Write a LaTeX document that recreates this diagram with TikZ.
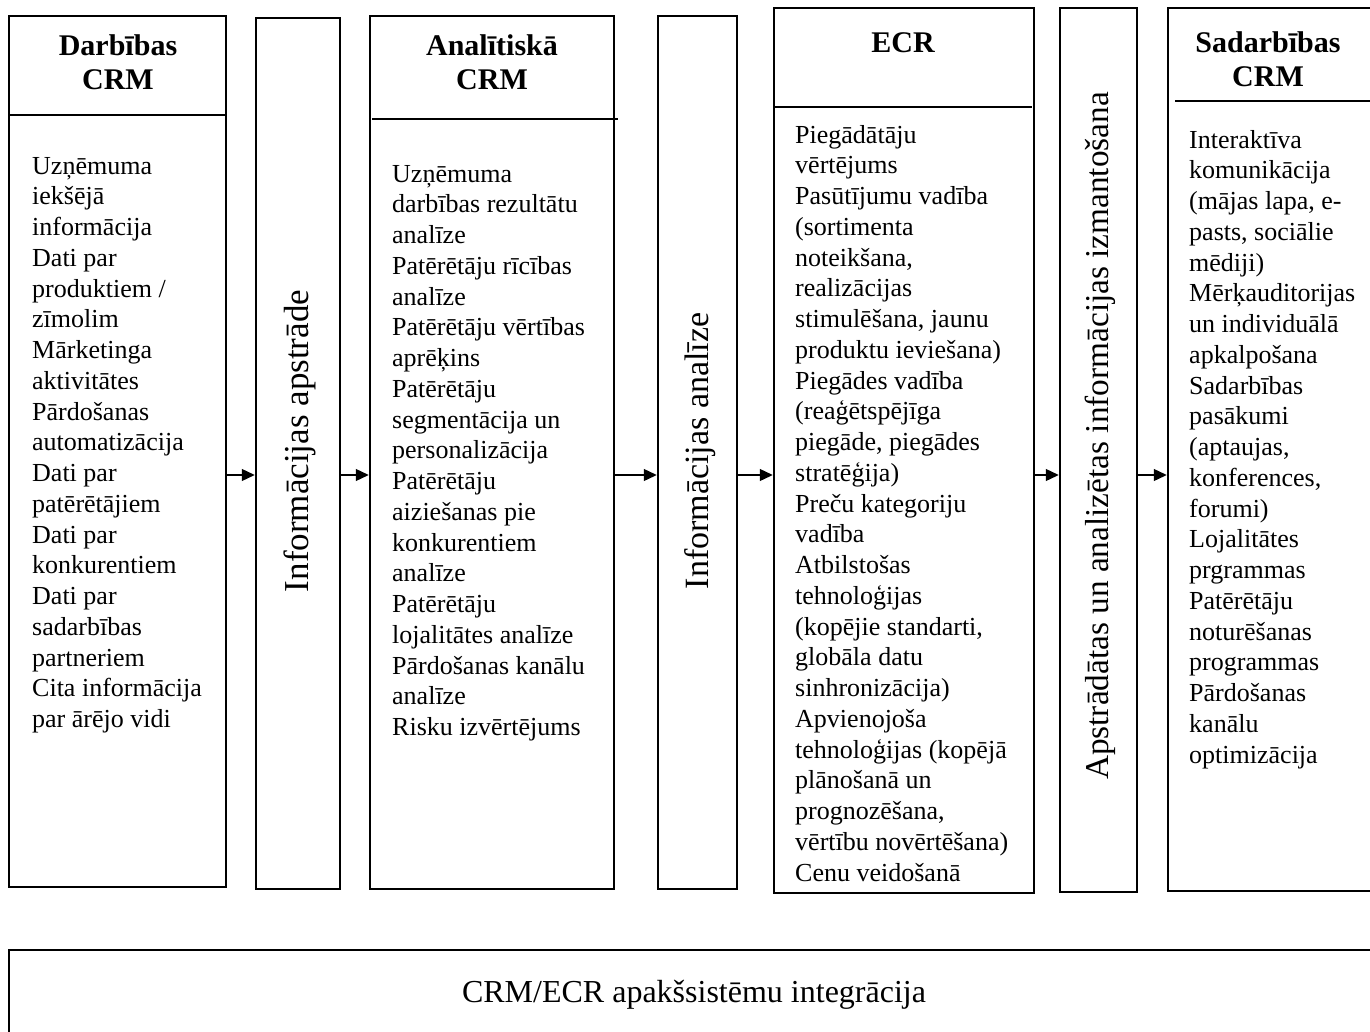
\documentclass[tikz,border=0pt]{standalone}
\usepackage{fontspec}
\setmainfont{Liberation Serif}
\usetikzlibrary{arrows.meta}

\begin{document}
\begin{tikzpicture}[x=1pt,y=-1pt,
  box/.style={draw, line width=2.5pt, rectangle, inner sep=0pt},
  sep/.style={line width=1.2pt},
  arr/.style={line width=1.3pt, -{Triangle[length=13pt,width=12pt]}},
  body/.style={anchor=north west, inner sep=0pt, align=left,
    font=\fontsize{26}{30.75}\selectfont},
  head/.style={anchor=north, inner sep=0pt, align=center,
    font=\fontsize{30}{34}\selectfont\bfseries},
  vlabel/.style={rotate=90, inner sep=0pt, font=\fontsize{34}{40}\selectfont},
]
\useasboundingbox (0,0) rectangle (1370,1032);
\clip (0,0) rectangle (1370,1032);

% columns
\node[box, minimum width=217pt, minimum height=871pt] (b1) at (117.5,451.5) {};
\node[box, minimum width=84pt,  minimum height=871pt] (b2) at (298,453.5) {};
\node[box, minimum width=244pt, minimum height=873pt] (b3) at (492,452.5) {};
\node[box, minimum width=79pt,  minimum height=873pt] (b4) at (697.5,452.5) {};
\node[box, minimum width=260pt, minimum height=885pt] (b5) at (904,450.5) {};
\node[box, minimum width=77pt,  minimum height=884pt] (b6) at (1098.5,450) {};
\node[box, minimum width=217pt, minimum height=883pt] (b7) at (1276.5,449.5) {};
% integration bar
\node[box, minimum width=1376pt, minimum height=95pt] (b8) at (697,997.5) {};

% header separators
\draw[sep] (10,115) -- (226,115);
\draw[sep] (372,119) -- (618,119);
\draw[sep] (774,107) -- (1032,107);
\draw[sep] (1175,101) -- (1370,101);

% headers
\node[head] (h1) at (118,55-23.8) {\strut Darbības\\CRM};
\node[head] (h3) at (492,55-23.8) {\strut Analītiskā\\CRM};
\node[head] (h5) at (903,52-23.8) {\strut ECR};
\node[head] (h7) at (1268,52-23.8) {\strut Sadarbības\\CRM};

% column contents
\node[body] (t1) at (32,174-21.525) {\strut Uzņēmuma\\iekšējā\\informācija\\Dati par\\produktiem /\\zīmolim\\Mārketinga\\aktivitātes\\Pārdošanas\\automatizācija\\Dati par\\patērētājiem\\Dati par\\konkurentiem\\Dati par\\sadarbības\\partneriem\\Cita informācija\\par ārējo vidi};

\node[body] (t3) at (392,182-21.525) {\strut Uzņēmuma\\darbības rezultātu\\analīze\\Patērētāju rīcības\\analīze\\Patērētāju vērtības\\aprēķins\\Patērētāju\\segmentācija un\\personalizācija\\Patērētāju\\aiziešanas pie\\konkurentiem\\analīze\\Patērētāju\\lojalitātes analīze\\Pārdošanas kanālu\\analīze\\Risku izvērtējums};

\node[body] (t5) at (795,143-21.525) {\strut Piegādātāju\\vērtējums\\Pasūtījumu vadība\\(sortimenta\\noteikšana,\\realizācijas\\stimulēšana, jaunu\\produktu ieviešana)\\Piegādes vadība\\(reaģētspējīga\\piegāde, piegādes\\stratēģija)\\Preču kategoriju\\vadība\\Atbilstošas\\tehnoloģijas\\(kopējie standarti,\\globāla datu\\sinhronizācija)\\Apvienojoša\\tehnoloģijas (kopējā\\plānošanā un\\prognozēšana,\\vērtību novērtēšana)\\Cenu veidošanā};

\node[body] (t7) at (1189,148-21.525) {\strut Interaktīva\\komunikācija\\(mājas lapa, e-\\pasts, sociālie\\mēdiji)\\Mērķauditorijas\\un individuālā\\apkalpošana\\Sadarbības\\pasākumi\\(aptaujas,\\konferences,\\forumi)\\Lojalitātes\\prgrammas\\Patērētāju\\noturēšanas\\programmas\\Pārdošanas\\kanālu\\optimizācija};

% vertical labels
\node[vlabel, font=\fontsize{35}{40}\selectfont] (v2) at (300,441) {Informācijas apstrāde};
\node[vlabel] (v4) at (700,451) {Informācijas analīze};
\node[vlabel, font=\fontsize{33.3}{40}\selectfont] (v6) at (1100,436) {Apstrādātas un analizētas informācijas izmantošana};

% integration label
\node[inner sep=0pt, font=\fontsize{32}{38}\selectfont] (t8) at (694,995) {CRM/ECR apakšsistēmu integrācija};

% flow arrows
\coordinate (row) at (0,475);
\draw[arr] (b1.east |- row) -- (b2.west |- row);
\draw[arr] (b2.east |- row) -- (b3.west |- row);
\draw[arr] (b3.east |- row) -- (b4.west |- row);
\draw[arr] (b4.east |- row) -- (b5.west |- row);
\draw[arr] (b5.east |- row) -- (b6.west |- row);
\draw[arr] (b6.east |- row) -- (b7.west |- row);
\end{tikzpicture}
\end{document}
